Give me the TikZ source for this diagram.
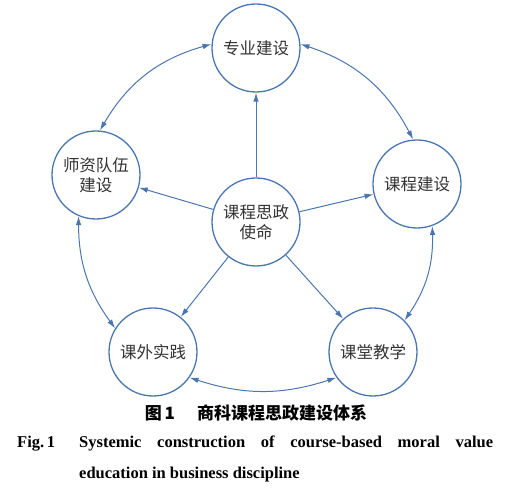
\documentclass[tikz,border=0pt]{standalone}
\usepackage{fontspec}
\setmainfont{Liberation Serif}
\newfontfamily\cjk{Noto Sans CJK SC}
\usetikzlibrary{arrows.meta}
\definecolor{ln}{HTML}{4A76B0}
\definecolor{tx}{HTML}{333333}
\begin{document}
\begin{tikzpicture}[x=1pt,y=1pt,
  ring/.style={circle,draw=ln,line width=1.3pt,minimum size=88pt,inner sep=0pt,align=center,
    font=\cjk\fontsize{16.5}{20}\selectfont,text=tx},
  conn/.style={draw=ln,line width=1pt,-{Latex[length=9pt,width=5.5pt]}},
  dconn/.style={draw=ln,line width=1pt,{Latex[length=9pt,width=5.5pt]}-{Latex[length=9pt,width=5.5pt]}},
  eng/.style={inner sep=0pt,font=\bfseries\fontsize{16.5}{20}\selectfont,text=black}]
\useasboundingbox (0,0) rectangle (512,500);
\node[ring] (top) at (256,452) {专业建设};
\node[ring] (cen) at (256,278) {课程思政\\使命};
\node[ring] (lft) at (96,325) {师资队伍\\建设};
\node[ring] (rgt) at (417,316) {课程建设};
\node[ring] (bl) at (153,148) {课外实践};
\node[ring] (br) at (373,148) {课堂教学};
\foreach \n in {top,lft,rgt,bl,br} \draw[conn] (cen) -- (\n);
\draw[dconn] (lft.85) to[bend left=22] (top.175);
\draw[dconn] (top.5) to[bend left=22] (rgt.95);
\draw[dconn] (rgt.-70) to[bend left=18] (br.45);
\draw[dconn] (br.215) to[bend left=18] (bl.-35);
\draw[dconn] (bl.148) to[bend left=18] (lft.247);
\node[font=\cjk\bfseries\fontsize{17}{20}\selectfont,text=black] (cap) at (256,87) {图\,1\hspace{1.3em}商科课程思政建设体系};
\node[eng,anchor=base west] (fig1) at (17,52) {Fig.\,1};
\node[eng,anchor=base west] (fig2) at (79,52) {\makebox[414pt][s]{Systemic construction of course-based moral value}};
\node[eng,anchor=base west] (fig3) at (79,21) {education in business discipline};
\end{tikzpicture}
\end{document}
